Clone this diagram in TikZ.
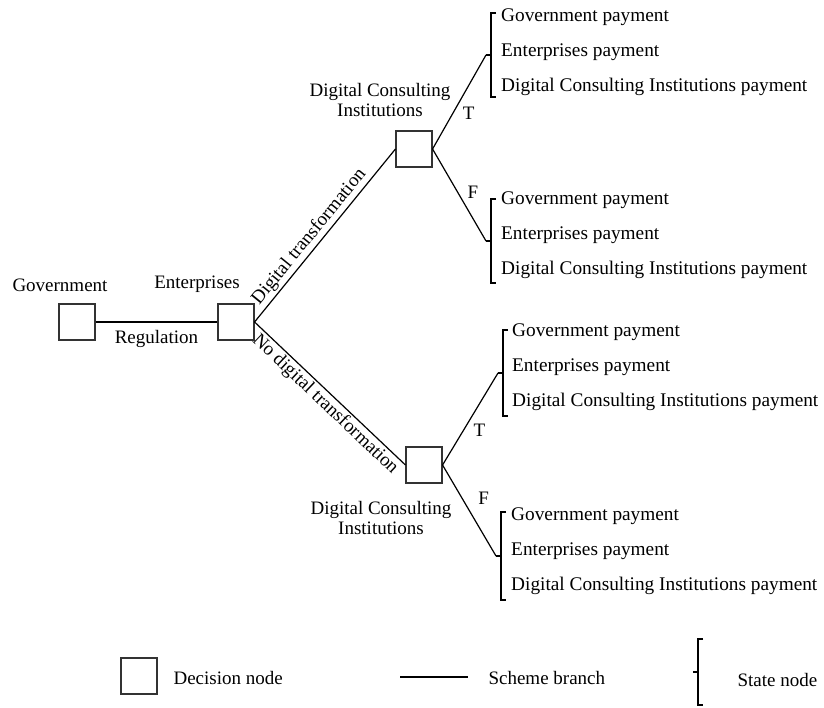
\documentclass[tikz,border=0pt]{standalone}
\usepackage{fontspec}
\setmainfont{Liberation Serif}
\usepackage{tikz}
\usetikzlibrary{positioning}

\newcommand{\treefont}{\fontsize{19}{20}\selectfont}
\newcommand{\payfont}{\fontsize{19.3}{35}\selectfont}

\begin{document}
\begin{tikzpicture}[
    x=1pt, y=-1pt,
    font=\treefont,
    decision/.style={draw=black!80, line width=1.1pt, minimum size=36pt, inner sep=0pt},
    branch/.style={line width=1.2pt},
    payoff/.style={align=left, anchor=west, inner sep=0pt, font=\payfont},
    statebr/.pic={
        \draw[line width=1.1pt] (5,-#1) -- (0,-#1) -- (0,#1) -- (5,#1);
        \draw[line width=1.1pt] (0,0) -- (-5,0);
        \coordinate (-tip) at (-5,0);
    }
]
\useasboundingbox (0,0) rectangle (824,707);

% Decision nodes
\node[decision] (gov) at (77,322) {};
\node[decision] (ent) at (236,322) {};
\node[decision] (dcitop) at (414,149) {};
\node[decision] (dcibot) at (424,465) {};

% Labels
\node (govlbl) at (60,285) {Government};
\node (entlbl) at (197,284) {Enterprises};
\node[align=center] (dcitoplbl) at (380,100) {Digital Consulting\\Institutions};
\node[align=center] (dcibotlbl) at (381,518) {Digital Consulting\\Institutions};

% State nodes
\pic (tt) at (491,55) {statebr=42};
\pic (tf) at (491,241) {statebr=42};
\pic (bt) at (503,373) {statebr=43};
\pic (bf) at (501,556) {statebr=44};

\node[payoff] (ttpay) at (501,52) {Government payment\\Enterprises payment\\Digital Consulting Institutions payment};
\node[payoff] (tfpay) at (501,235) {Government payment\\Enterprises payment\\Digital Consulting Institutions payment};
\node[payoff] (btpay) at (512,367) {Government payment\\Enterprises payment\\Digital Consulting Institutions payment};
\node[payoff] (bfpay) at (511,551) {Government payment\\Enterprises payment\\Digital Consulting Institutions payment};

% Branches
\draw[branch] (gov) -- node[below=4pt] {Regulation} (ent);
\draw[branch] (ent.east) -- node[sloped, above, pos=0.45, inner sep=2pt] {Digital transformation} (dcitop.west);
\draw[branch] (ent.east) -- node[sloped, below, pos=0.52, inner sep=2pt] {No digital transformation} (dcibot.west);
\draw[branch] (dcitop.east) -- node[pos=0.38, right=6pt] {T} (tt-tip);
\draw[branch] (dcitop.east) -- node[pos=0.47, right=6pt] {F} (tf-tip);
\draw[branch] (dcibot.east) -- node[pos=0.38, right=6pt] {T} (bt-tip);
\draw[branch] (dcibot.east) -- node[pos=0.37, right=12pt] {F} (bf-tip);

% Legend
\node[decision] (legbox) at (139,676) {};
\node[anchor=west] (legboxlbl) at (170,678) {Decision node};
\coordinate (lega) at (400,677);
\coordinate (legb) at (468,677);
\draw[branch] (lega) -- (legb);
\node[anchor=west] (leglinelbl) at (485,678) {Scheme branch};
\pic (legbr) at (698,672) {statebr=33};
\node[anchor=west] (legbrlbl) at (734,680) {State node};

\end{tikzpicture}
\end{document}
